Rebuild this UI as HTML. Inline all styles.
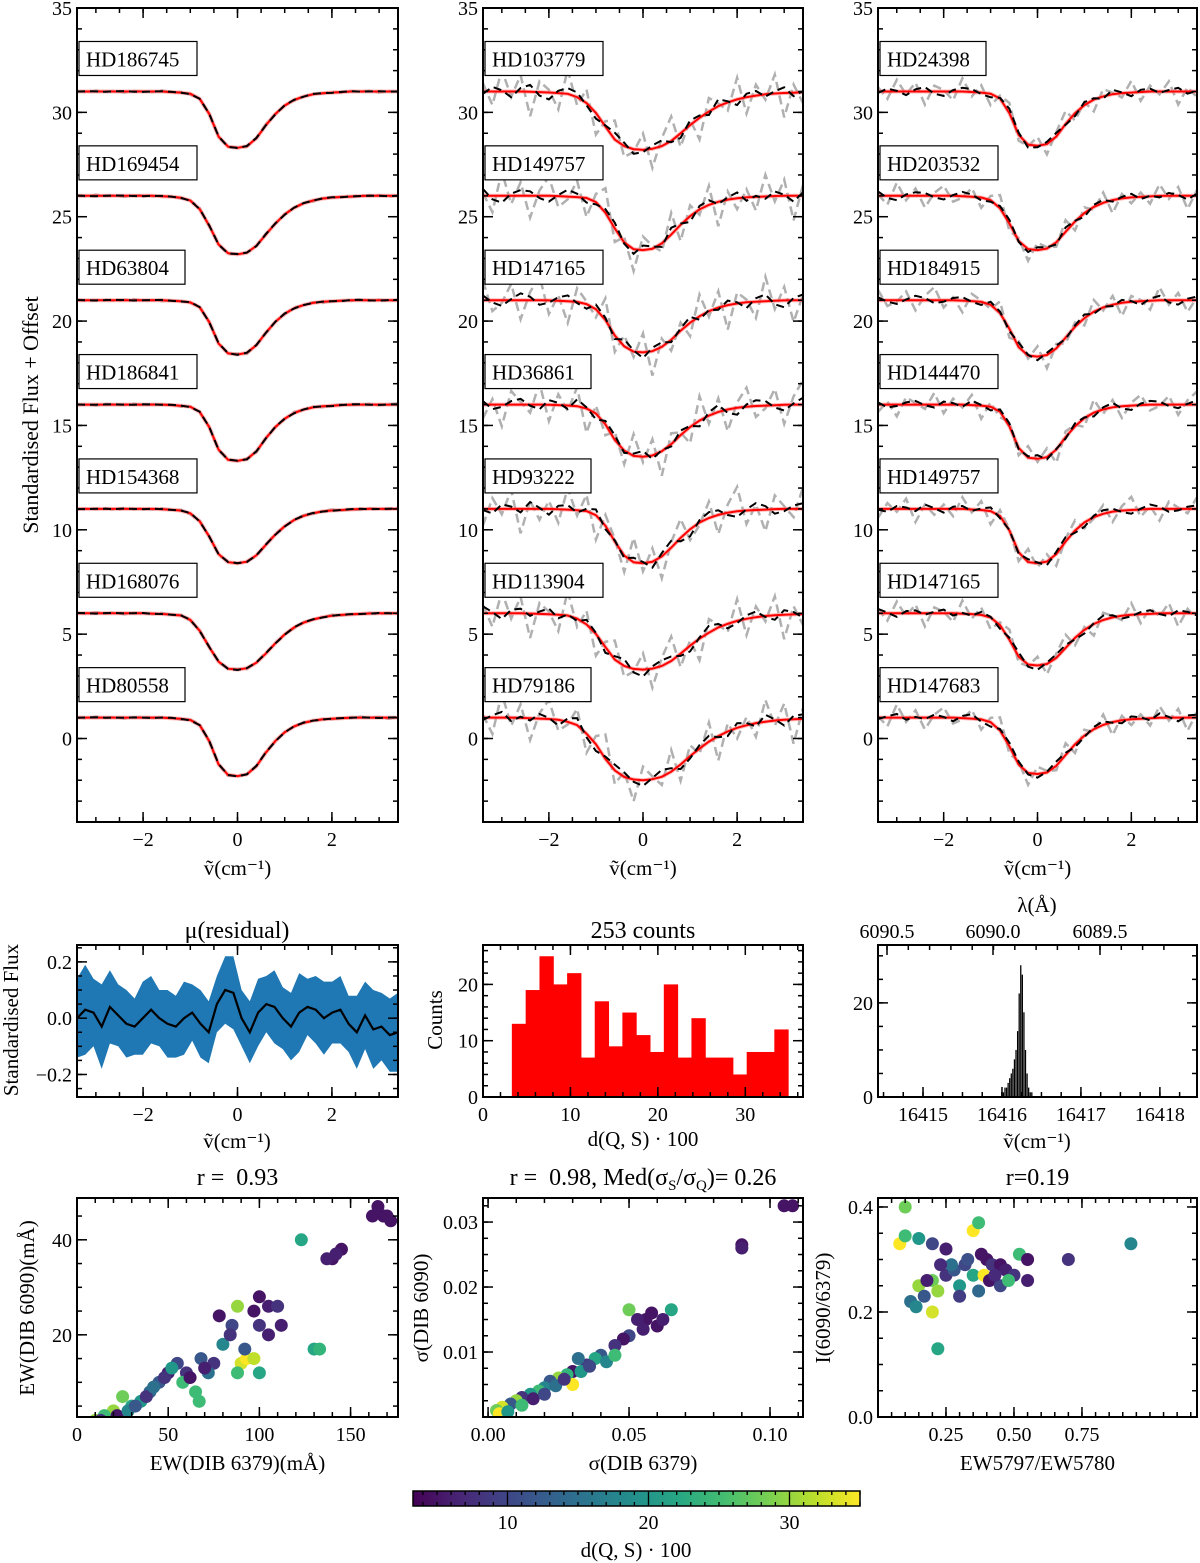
<!DOCTYPE html>
<html><head><meta charset="utf-8">
<style>
html,body{margin:0;padding:0;background:#fff;}
svg{display:block;font-family:"Liberation Serif",serif;}
</style></head>
<body>
<svg id="fig" width="1200" height="1563" viewBox="0 0 1200 1563" xmlns="http://www.w3.org/2000/svg"></svg>
<script>
// ---------- DATA ----------
const profileX = [-3.4,-3.2,-3.0,-2.8,-2.6,-2.4,-2.2,-2.0,-1.8,-1.6,-1.4,-1.2,-1.0,-0.8,-0.6,-0.4,-0.2,0.0,0.2,0.4,0.6,0.8,1.0,1.2,1.4,1.6,1.8,2.0,2.2,2.4,2.6,2.8,3.0,3.2,3.4];
const profileT = [0,0,0,0,0,0,0,0,0,0,0.01,0.02,0.04,0.13,0.4,0.8,0.98,1,0.97,0.83,0.6,0.4,0.25,0.15,0.09,0.05,0.03,0.02,0.01,0,0,0,0,0,0];
const noiseA = [0.3,-0.5,0.8,-0.2,0.6,-0.9,0.4,0.1,-0.6,0.9,-0.3,0.5,-0.8,0.2,0.7,-0.4,-0.1,0.6,-0.7,0.3,0.9,-0.5,0.2,-0.8,0.5,0.1,-0.3,0.8,-0.6,0.4,-0.2,0.7,-0.9,0.3,-0.4];
const noiseB = [-0.2,0.4,0.1,-0.5,0.3,0.6,-0.3,-0.6,0.2,0.5,0.4,-0.2,-0.5,0.1,0.6,0.3,-0.4,-0.2,0.3,0.5,-0.1,-0.4,0.4,0.2,-0.3,0.6,0.1,-0.5,0.3,0.4,-0.2,0.2,0.5,-0.3,0.1];

const namesL = ["HD186745","HD169454","HD63804","HD186841","HD154368","HD168076","HD80558"];
const namesM = ["HD103779","HD149757","HD147165","HD36861","HD93222","HD113904","HD79186"];
const namesR = ["HD24398","HD203532","HD184915","HD144470","HD149757","HD147165","HD147683"];
const baseL = [31,26,21,16,11,6,1];
const baseM = [31,26,21,16,11,6,1];
const baseR = [31,26,21,16,11,6,1];
const depthL = [2.7,2.8,2.6,2.7,2.6,2.7,2.8];
const depthM = [2.8,2.6,2.5,2.5,2.6,2.7,3.0];
const depthR = [2.6,2.6,2.7,2.6,2.6,2.5,2.7];
const widthL = [1.0,1.1,1.0,1.0,1.1,1.2,1.0];
const widthM = [1.6,1.2,1.3,1.3,1.2,1.6,1.7];
const widthR = [1.0,1.1,1.1,1.0,1.0,1.1,1.1];

const resMean = [0.0,0.03,0.02,-0.03,0.04,0.01,-0.02,-0.03,0.0,0.03,0.0,-0.02,-0.03,0.0,0.02,-0.02,-0.05,0.05,0.1,0.09,0.0,-0.05,0.02,0.05,0.04,0.0,-0.03,0.02,0.04,0.03,0.0,0.02,0.03,-0.02,-0.05,0.01,-0.04,-0.03,-0.06,-0.05];
const resSd = [0.14,0.16,0.12,0.15,0.13,0.11,0.12,0.1,0.13,0.12,0.1,0.12,0.11,0.13,0.1,0.12,0.11,0.1,0.12,0.13,0.1,0.11,0.12,0.1,0.13,0.11,0.12,0.14,0.1,0.12,0.13,0.11,0.12,0.1,0.13,0.12,0.14,0.12,0.13,0.14];

const histCounts = [13,19,25,20,22,7,17,9,15,11,8,20,7,14,7,7,4,8,8,12];
const histStart = 3.3, histWidth = 1.58;

const spikeCounts = [1,1,2,2,3,4,5,6,8,10,14,22,28,26,18,10,5,2,1,1];
const spikeStart = 16415.99, spikeWidth = 0.02;

const ewX = [165,162,168,172,170,140,145,142,137,123,130,133,100,105,110,112,97,100,88,85,78,90,93,97,88,100,75,68,72,65,67,60,55,50,45,40,35,30,25,20,15,10,8,13,18,22,28,32,38,42,48,52,58,62,80,84,92,70,105];
const ewY = [47,45,45,44,45,36,38,37,36,40,17,17,28,26,26,22,25,22,26,22,24,14,15,15,12,12,14,15,12,8,6,12,14,12,10,8,6,5,7,4,3,2,1.5,2,1,3,4,5,7,9,11,13,10,11,18,20,17,13,20];
const ewC = [5,5,5,5,5,5,5,6,6,22,22,24,5,6,8,6,5,8,30,10,5,33,35,32,25,22,8,12,15,25,25,8,10,6,12,14,20,22,28,30,25,30,35,8,30,5,18,12,8,15,8,20,25,5,18,8,12,6,6];

const sgX = [0.105,0.108,0.09,0.09,0.056,0.058,0.053,0.05,0.065,0.05,0.048,0.055,0.045,0.04,0.038,0.042,0.035,0.03,0.032,0.028,0.025,0.03,0.022,0.02,0.018,0.015,0.012,0.01,0.008,0.005,0.003,0.004,0.007,0.012,0.016,0.02,0.024,0.027,0.033,0.036,0.06,0.045,0.062];
const sgY = [0.0325,0.0325,0.0265,0.026,0.015,0.016,0.015,0.0165,0.0165,0.0125,0.012,0.0135,0.011,0.0095,0.009,0.0085,0.008,0.007,0.009,0.0065,0.006,0.005,0.0055,0.0045,0.004,0.0035,0.003,0.0025,0.002,0.0015,0.001,0.0005,0.0008,0.0018,0.0028,0.0035,0.0048,0.0058,0.007,0.0078,0.014,0.0095,0.015];
const sgC = [5,5,5,6,5,5,6,28,22,10,5,6,8,12,22,18,8,5,15,24,30,35,12,18,25,20,8,30,12,33,28,35,20,25,6,10,15,8,20,10,5,25,6];

const irX = [0.1,0.08,0.1,0.15,0.2,0.25,0.35,0.37,0.4,0.42,0.38,0.45,0.47,0.5,0.52,0.55,0.55,0.7,0.93,0.2,0.22,0.15,0.17,0.12,0.2,0.25,0.28,0.3,0.32,0.35,0.37,0.39,0.41,0.45,0.48,0.22,0.18,0.27,0.3,0.14,0.23,0.33,0.43];
const irY = [0.4,0.33,0.345,0.34,0.33,0.32,0.355,0.37,0.3,0.29,0.31,0.29,0.28,0.27,0.31,0.3,0.26,0.3,0.33,0.2,0.13,0.25,0.23,0.22,0.26,0.27,0.28,0.25,0.29,0.27,0.24,0.27,0.26,0.25,0.26,0.24,0.26,0.29,0.23,0.21,0.29,0.3,0.27];
const irC = [28,35,25,20,10,6,35,25,5,8,5,5,6,8,25,5,6,8,18,33,22,30,12,15,28,8,12,20,10,22,14,35,5,10,25,30,6,15,9,18,7,11,7];

// ---------- HELPERS ----------
const NS = "http://www.w3.org/2000/svg";
const svg = document.getElementById("fig");
function el(tag, attrs, parent) {
  const e = document.createElementNS(NS, tag);
  for (const k in attrs) e.setAttribute(k, attrs[k]);
  (parent || svg).appendChild(e);
  return e;
}
function txt(x, y, s, size, anchor, parent, rot) {
  const t = el("text", {x: x, y: y, "font-size": size || 20, "text-anchor": anchor || "middle", fill: "#000"}, parent);
  if (rot) t.setAttribute("transform", "rotate(" + rot + " " + x + " " + y + ")");
  t.textContent = s;
  return t;
}
function viridis(t) {
  const st = [[68,1,84],[72,40,120],[62,74,137],[49,104,142],[38,130,142],[31,158,137],[53,183,121],[109,205,89],[180,222,44],[253,231,37]];
  t = Math.max(0, Math.min(1, t));
  const f = t * (st.length - 1), i = Math.min(st.length - 2, Math.floor(f)), r = f - i;
  const c = st[i].map((v, k) => Math.round(v + (st[i + 1][k] - v) * r));
  return "rgb(" + c.join(",") + ")";
}
function cnorm(v) { return (v - 3.3) / (35 - 3.3); }

function makePanel(name, x0, y0, x1, y1, xmin, xmax, ymin, ymax) {
  const g = el("g", {});
  
  
  const sx = v => x0 + (v - xmin) / (xmax - xmin) * (x1 - x0);
  const sy = v => y1 - (v - ymin) / (ymax - ymin) * (y1 - y0);
  const clipId = name + "-clip";
  const cp = el("clipPath", {id: clipId}, g);
  el("rect", {x: x0, y: y0, width: x1 - x0, height: y1 - y0}, cp);
  const plot = el("g", {"clip-path": "url(#" + clipId + ")"}, g);
  return {g, plot, sx, sy, x0, y0, x1, y1, xmin, xmax, ymin, ymax};
}
function drawFrame(p, xt, xlab, xminor, yt, ylab, yminor, opts) {
  opts = opts || {};
  const g = p.g;
  const ax = el("g", {stroke: "#000", "stroke-width": 1.5}, g);
  
  
  el("rect", {x: p.x0, y: p.y0, width: p.x1 - p.x0, height: p.y1 - p.y0, fill: "none", stroke: "#000", "stroke-width": 2}, g);
  const inX = v => v >= Math.min(p.xmin, p.xmax) - 1e-9 && v <= Math.max(p.xmin, p.xmax) + 1e-9;
  const inY = v => v >= p.ymin - 1e-9 && v <= p.ymax + 1e-9;
  for (let v = Math.ceil(p.xmin / xminor) * xminor; v <= p.xmax; v += xminor) {
    const x = p.sx(v);
    el("line", {x1: x, y1: p.y1, x2: x, y2: p.y1 - 5}, ax);
    if (!opts.noTopX) el("line", {x1: x, y1: p.y0, x2: x, y2: p.y0 + 5}, ax);
  }
  for (let v = Math.ceil(p.ymin / yminor) * yminor; v <= p.ymax + 1e-9; v += yminor) {
    const y = p.sy(v);
    el("line", {x1: p.x0, y1: y, x2: p.x0 + 5, y2: y}, ax);
    el("line", {x1: p.x1, y1: y, x2: p.x1 - 5, y2: y}, ax);
  }
  xt.forEach((v, i) => {
    if (!inX(v)) return;
    const x = p.sx(v);
    el("line", {x1: x, y1: p.y1, x2: x, y2: p.y1 - 10}, ax);
    if (!opts.noTopX) el("line", {x1: x, y1: p.y0, x2: x, y2: p.y0 + 10}, ax);
    const t = txt(x, p.y1 + 24, xlab[i], 20, "middle", g);
    
    
  });
  yt.forEach((v, i) => {
    if (!inY(v)) return;
    const y = p.sy(v);
    el("line", {x1: p.x0, y1: y, x2: p.x0 + 10, y2: y}, ax);
    el("line", {x1: p.x1, y1: y, x2: p.x1 - 10, y2: y}, ax);
    const t = txt(p.x0 - 5, y + 7, ylab[i], 20, "end", g);
    
    
  });
}
function interpT(x) {
  if (x <= profileX[0]) return profileT[0];
  if (x >= profileX[profileX.length - 1]) return profileT[profileT.length - 1];
  for (let i = 0; i < profileX.length - 1; i++) {
    if (x >= profileX[i] && x <= profileX[i + 1]) {
      const r = (x - profileX[i]) / (profileX[i + 1] - profileX[i]);
      return profileT[i] + (profileT[i + 1] - profileT[i]) * r;
    }
  }
  return 0;
}
function pathOf(xs, ys, p) {
  return xs.map((x, i) => (i ? "L" : "M") + p.sx(x).toFixed(1) + "," + p.sy(ys[i]).toFixed(1)).join(" ");
}

// ---------- TOP ROW ----------
const minus = "\u2212";
const nuLabel = "\u1E7D(cm\u207B\u00B9)";
function spectraPanel(name, x0, x1, names, base, depth, width, ampG, ampK) {
  const p = makePanel(name, x0, 8, x1, 822, -3.4, 3.4, -4, 35);
  drawFrame(p, [-2, 0, 2], [minus + "2", "0", "2"], 0.5, [0, 5, 10, 15, 20, 25, 30, 35], ["0", "5", "10", "15", "20", "25", "30", "35"], 1);
  names.forEach((nm, i) => {
    const xs = [], red = [], blk = [], gry = [];
    for (let k = 0; k < profileX.length; k++) {
      const x = profileX[k];
      const r = base[i] - depth[i] * interpT(x / width[i]);
      xs.push(x); red.push(r);
      blk.push(r + ampK * noiseB[(k + i * 5) % noiseB.length]);
      gry.push(r + ampG * noiseA[(k + i * 7) % noiseA.length]);
    }
    const gp = el("path", {d: pathOf(xs, gry, p), fill: "none", stroke: "#b0b0b0", "stroke-width": 2.5, "stroke-dasharray": "9,5"}, p.plot);
    
    
    const rp0 = el("path", {d: pathOf(xs, red, p), fill: "none", stroke: "rgba(255,120,120,0.5)", "stroke-width": 4}, p.plot);
    
    
    const rp = el("path", {d: pathOf(xs, red, p), fill: "none", stroke: "#ff0000", "stroke-width": 2}, p.plot);
    
    
    const bp = el("path", {d: pathOf(xs, blk, p), fill: "none", stroke: "#000", "stroke-width": 2, "stroke-dasharray": "8,5"}, p.plot);
    
    
    const by = p.sy(base[i]) - 50;
    const w = nm.length * 12 + 22;
    const lg = el("g", {}, p.g);
    
    
    el("rect", {x: x0 + 2, y: by, width: w, height: 34, fill: "#fff", stroke: "#000", "stroke-width": 1.2}, lg);
    txt(x0 + 9, by + 25, nm, 21, "start", lg);
  });
  const xl = txt((x0 + x1) / 2, 875, nuLabel, 21, "middle", p.g);
  
  
  return p;
}
spectraPanel("spectra-panel-left", 77, 398, namesL, baseL, depthL, widthL, 0.06, 0.03);
spectraPanel("spectra-panel-middle", 483, 803, namesM, baseM, depthM, widthM, 1.3, 0.55);
spectraPanel("spectra-panel-right", 878, 1197, namesR, baseR, depthR, widthR, 0.7, 0.35);
const yt1 = txt(38, 415, "Standardised Flux + Offset", 22, "middle", svg, -90);



// ---------- ROW 2 ----------
(function () {
  const p = makePanel("residual-panel", 77, 945, 398, 1097, -3.4, 3.4, -0.28, 0.26);
  const n = resMean.length, xs = resMean.map((_, i) => -3.4 + i * 6.8 / (n - 1));
  const up = resMean.map((m, i) => m + resSd[i]), lo = resMean.map((m, i) => m - resSd[i]);
  const d = pathOf(xs, up, p) + " " + xs.slice().reverse().map((x, j) => "L" + p.sx(x).toFixed(1) + "," + p.sy(lo[n - 1 - j]).toFixed(1)).join(" ") + " Z";
  const band = el("path", {d: d, fill: "#1f77b4", stroke: "none"}, p.plot);
  
  
  const ln = el("path", {d: pathOf(xs, resMean, p), fill: "none", stroke: "#000", "stroke-width": 2.2}, p.plot);
  
  
  drawFrame(p, [-2, 0, 2], [minus + "2", "0", "2"], 0.5, [-0.2, 0, 0.2], [minus + "0.2", "0.0", "0.2"], 0.05);
  txt(237, 938, "\u03BC(residual)", 24, "middle", p.g);
  txt(237, 1148, nuLabel, 21, "middle", p.g);
  txt(18, 1020, "Standardised Flux", 21, "middle", p.g, -90);
})();
(function () {
  const p = makePanel("histogram-panel", 483, 945, 803, 1097, 0, 36.6, 0, 27);
  histCounts.forEach((c, i) => {
    const a = histStart + i * histWidth;
    const r = el("rect", {x: p.sx(a), y: p.sy(c), width: p.sx(a + histWidth) - p.sx(a) + 0.5, height: p.sy(0) - p.sy(c), fill: "#ff0000"}, p.plot);
    
    
  });
  drawFrame(p, [0, 10, 20, 30], ["0", "10", "20", "30"], 2, [0, 10, 20], ["0", "10", "20"], 2);
  txt(643, 938, "253 counts", 24, "middle", p.g);
  txt(643, 1146, "d(Q, S) \u00B7 100", 21, "middle", p.g);
  txt(442, 1020, "Counts", 21, "middle", p.g, -90);
})();
(function () {
  const p = makePanel("wavenumber-histogram-panel", 878, 945, 1197, 1097, 16414.43, 16418.47, 0, 32.3);
  spikeCounts.forEach((c, i) => {
    const a = spikeStart + i * spikeWidth;
    const r = el("rect", {x: p.sx(a), y: p.sy(c), width: Math.max(1.2, p.sx(a + spikeWidth) - p.sx(a) - 0.3), height: p.sy(0) - p.sy(c), fill: "#000"}, p.plot);
    
    
  });
  drawFrame(p, [16415, 16416, 16417, 16418], ["16415", "16416", "16417", "16418"], 0.25, [0, 20], ["0", "20"], 5, {noTopX: true});
  const lam = [6090.5, 6090.0, 6089.5], lamx = [887, 993, 1100];
  const ax = el("g", {stroke: "#000", "stroke-width": 1.5}, p.g);
  lam.forEach((l, i) => {
    el("line", {x1: lamx[i], y1: 945, x2: lamx[i], y2: 955}, ax);
    txt(lamx[i], 938, l.toFixed(1), 20, "middle", p.g);
  });
  for (let k = -1; k < 14; k++) { const x = 887 + k * 21.3; if (x > 878 && x < 1197) el("line", {x1: x, y1: 945, x2: x, y2: 950}, ax); }
  txt(1037, 912, "\u03BB(\u00C5)", 21, "middle", p.g);
  txt(1037, 1148, nuLabel, 21, "middle", p.g);
})();

// ---------- ROW 3 scatter ----------
function scatter(name, x0, x1, xmin, xmax, ymin, ymax, xs, ys, cs, xt, xl, xmi, yt, yl, ymi, title, xlab, ylab, ylx) {
  const p = makePanel(name, x0, 1198, x1, 1417, xmin, xmax, ymin, ymax);
  xs.forEach((x, i) => {
    const c = el("circle", {cx: p.sx(x), cy: p.sy(ys[i]), r: 6.5, fill: viridis(cnorm(cs[i]))}, p.plot);
    
    
  });
  drawFrame(p, xt, xl, xmi, yt, yl, ymi);
  const tt = txt((x0 + x1) / 2, 1185, "", 24, "middle", p.g);
  tt.setAttribute("style", "white-space:pre");
  tt.innerHTML = title;
  
  
  txt((x0 + x1) / 2, 1470, xlab, 21, "middle", p.g);
  txt(ylx, 1308, ylab, 21, "middle", p.g, -90);
}
scatter("ew-scatter", 77, 398, 0, 176, 2.7, 48.8, ewX, ewY, ewC, [0, 50, 100, 150], ["0", "50", "100", "150"], 10, [20, 40], ["20", "40"], 5, "r =\u00A0 0.93", "EW(DIB 6379)(m\u00C5)", "EW(DIB 6090)(m\u00C5)", 34);
scatter("sigma-scatter", 483, 803, -0.0018, 0.1117, 0, 0.0337, sgX, sgY, sgC, [0, 0.05, 0.1], ["0.00", "0.05", "0.10"], 0.01, [0.01, 0.02, 0.03], ["0.01", "0.02", "0.03"], 0.0025, "r =\u00A0 0.98, Med(\u03C3<tspan font-size='15' dy='5'>S</tspan><tspan dy='-5'>/\u03C3</tspan><tspan font-size='15' dy='5'>Q</tspan><tspan dy='-5'>)= 0.26</tspan>", "\u03C3(DIB 6379)", "\u03C3(DIB 6090)", 428);
scatter("ratio-scatter", 878, 1197, 0, 1.173, 0, 0.4171, irX, irY, irC, [0.25, 0.5, 0.75], ["0.25", "0.50", "0.75"], 0.05, [0, 0.2, 0.4], ["0.0", "0.2", "0.4"], 0.05, "r=0.19", "EW5797/EW5780", "I(6090/6379)", 830);

// ---------- COLORBAR ----------
(function () {
  const g = el("g", {});
  
  
  const defs = el("defs", {}, g);
  const lg = el("linearGradient", {id: "vir", x1: "0", x2: "1", y1: "0", y2: "0"}, defs);
  for (let i = 0; i <= 10; i++) el("stop", {offset: i / 10, "stop-color": viridis(i / 10)}, lg);
  el("rect", {x: 413, y: 1491, width: 447, height: 15, fill: "url(#vir)", stroke: "#000", "stroke-width": 1.5}, g);
  const cx = v => 413 + (v - 3.3) / (35 - 3.3) * 447;
  for (let v = 4; v <= 35; v++) {
    const major = v % 10 === 0;
    el("line", {x1: cx(v), y1: 1506, x2: cx(v), y2: 1506 - (major ? 8 : 4), stroke: "#000", "stroke-width": 1.3}, g);
    el("line", {x1: cx(v), y1: 1491, x2: cx(v), y2: 1491 + (major ? 8 : 4), stroke: "#000", "stroke-width": 1.3}, g);
    if (major) txt(cx(v), 1529, String(v), 20, "middle", g);
  }
  txt(636, 1557, "d(Q, S) \u00B7 100", 21, "middle", g);
})();
</script>
</body></html>
